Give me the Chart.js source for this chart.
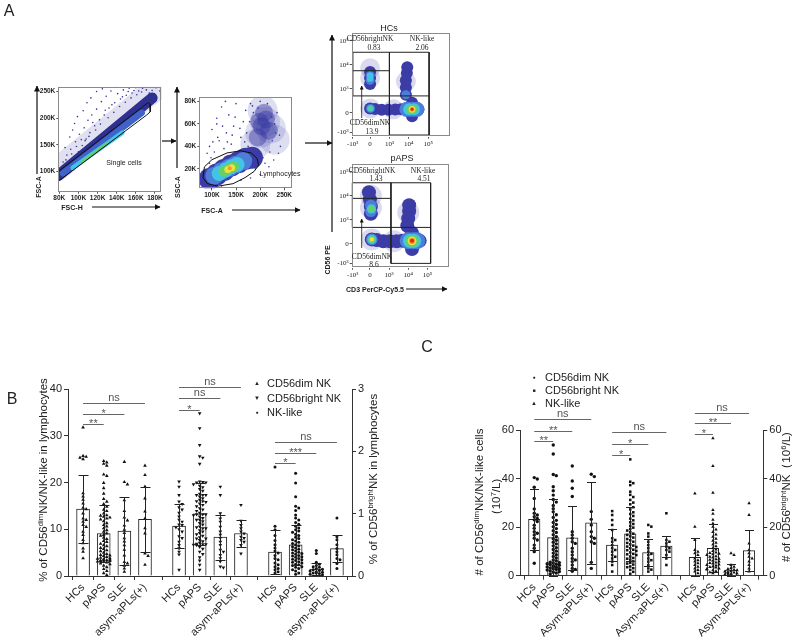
<!DOCTYPE html>
<html><head><meta charset="utf-8">
<script src="https://cdn.jsdelivr.net/npm/chart.js@4.4.1/dist/chart.umd.min.js"></script>
<style>
html,body{margin:0;padding:0;background:#fff;}
#wrap{position:relative;width:799px;height:643px;overflow:hidden;font-family:"Liberation Sans",Arial,sans-serif;color:#222;}
#wrap canvas{position:absolute;}
.t{position:absolute;white-space:nowrap;line-height:1;transform:translate(-50%,-50%);}
.r{transform:translate(-50%,-50%) rotate(-90deg);}
.l{transform:translate(0,-50%);}
.sf{font-family:"Liberation Serif","Times New Roman",serif;}
.b{font-weight:bold;}
sup{font-size:68%;vertical-align:0.5em;line-height:0;}
svg{position:absolute;left:0;top:0;}
</style></head><body>
<div id="wrap">
<canvas id="f1" width="146" height="125" style="left:20px;top:80px"></canvas>
<canvas id="f2" width="135" height="125" style="left:172px;top:82px"></canvas>
<canvas id="f3" width="130" height="132" style="left:330px;top:20px"></canvas>
<canvas id="f4" width="130" height="132" style="left:330px;top:151px"></canvas>
<canvas id="cb" width="400" height="278" style="left:0px;top:365px"></canvas>
<canvas id="cc" width="389" height="253" style="left:410px;top:390px"></canvas>

<svg width="799" height="643" viewBox="0 0 799 643">
<defs>
<marker id="ah" markerWidth="6" markerHeight="6" refX="5.5" refY="3" orient="auto" markerUnits="userSpaceOnUse"><path d="M0,0 L6,3 L0,6 z" fill="#111"/></marker>
<marker id="ahs" markerWidth="4" markerHeight="4" refX="3.5" refY="2" orient="auto" markerUnits="userSpaceOnUse"><path d="M0,0 L4,2 L0,4 z" fill="#111"/></marker>
</defs>
<g stroke="#111" stroke-width="1.2" fill="none">
<line x1="37" y1="174" x2="37" y2="86" marker-end="url(#ah)"/>
<line x1="92" y1="207" x2="160" y2="207" marker-end="url(#ah)"/>
<line x1="177" y1="168" x2="177" y2="87" marker-end="url(#ah)"/>
<line x1="232" y1="210" x2="300" y2="210" marker-end="url(#ah)"/>
<line x1="162" y1="141" x2="176" y2="141" marker-end="url(#ah)"/>
<line x1="305" y1="143" x2="332" y2="143" marker-end="url(#ah)"/>
<line x1="332" y1="232" x2="332" y2="35" marker-end="url(#ah)"/>
<line x1="406" y1="289" x2="447" y2="289" marker-end="url(#ah)"/>
</g>
<g stroke="#111" stroke-width="0.8" fill="none">
<line x1="361.7" y1="118" x2="361.7" y2="86" marker-end="url(#ahs)"/>
<line x1="361.7" y1="248" x2="361.7" y2="219" marker-end="url(#ahs)"/>
</g>
</svg>

<div class="t" style="left:9px;top:11px;font-size:16px;">A</div>
<div class="t" style="left:12px;top:399px;font-size:16px;">B</div>
<div class="t" style="left:427px;top:347px;font-size:16px;">C</div>

<div class="t r b" style="left:38px;top:187px;font-size:7px;">FSC-A</div>
<div class="t b" style="left:72px;top:207px;font-size:7px;">FSC-H</div>
<div class="t" style="left:124px;top:162px;font-size:7px;">Single cells</div>
<div class="t r b" style="left:177px;top:187px;font-size:7px;">SSC-A</div>
<div class="t b" style="left:212px;top:210px;font-size:7px;">FSC-A</div>
<div class="t" style="left:280px;top:173px;font-size:7px;">Lymphocytes</div>

<div class="t" style="left:389px;top:28px;font-size:9px;">HCs</div>
<div class="t" style="left:402px;top:158px;font-size:9px;">pAPS</div>
<div class="t r b" style="left:327px;top:260px;font-size:7px;">CD56 PE</div>
<div class="t b" style="left:375px;top:289px;font-size:7px;">CD3 PerCP-Cy5.5</div>

<div class="t sf" style="left:370px;top:39px;font-size:7.5px;">CD56brightNK</div>
<div class="t sf" style="left:374px;top:48px;font-size:7.5px;">0.83</div>
<div class="t sf" style="left:422px;top:39px;font-size:7.5px;">NK-like</div>
<div class="t sf" style="left:422px;top:48px;font-size:7.5px;">2.06</div>
<div class="t sf" style="left:370px;top:123px;font-size:7.5px;">CD56dimNK</div>
<div class="t sf" style="left:372px;top:132px;font-size:7.5px;">13.9</div>
<div class="t sf" style="left:372px;top:171px;font-size:7.5px;">CD56brightNK</div>
<div class="t sf" style="left:376px;top:179px;font-size:7.5px;">1.43</div>
<div class="t sf" style="left:423px;top:171px;font-size:7.5px;">NK-like</div>
<div class="t sf" style="left:424px;top:179px;font-size:7.5px;">4.51</div>
<div class="t sf" style="left:372px;top:257px;font-size:7.5px;">CD56dimNK</div>
<div class="t sf" style="left:374px;top:265px;font-size:7.5px;">8.6</div>

<div class="t r" style="left:44px;top:480px;font-size:11.5px;">% of CD56<sup>dim</sup>NK/NK-like in lymphocytes</div>
<div class="t r" style="left:374px;top:479px;font-size:11.5px;">% of CD56<sup>bright</sup>NK in lymphocytes</div>

<div class="t" style="left:257px;top:383px;font-size:6px;">▲</div>
<div class="t l" style="left:267px;top:383px;font-size:11px;">CD56dim NK</div>
<div class="t" style="left:257px;top:398px;font-size:6px;">▼</div>
<div class="t l" style="left:267px;top:398px;font-size:11px;">CD56bright NK</div>
<div class="t" style="left:257px;top:412px;font-size:5px;">●</div>
<div class="t l" style="left:267px;top:412px;font-size:11px;">NK-like</div>

<div class="t r" style="left:480px;top:502px;font-size:11.5px;"># of CD56<sup>dim</sup>NK/NK-like cells</div>
<div class="t r" style="left:497px;top:500px;font-size:11.5px;">（10<sup>7</sup>/L)</div>
<div class="t r" style="left:787px;top:497px;font-size:11.5px;"># of CD56<sup>bright</sup>NK（10<sup>6</sup>/L)</div>

<div class="t" style="left:534px;top:377px;font-size:5px;">●</div>
<div class="t l" style="left:545px;top:377px;font-size:11px;">CD56dim NK</div>
<div class="t" style="left:534px;top:390px;font-size:5px;">■</div>
<div class="t l" style="left:545px;top:390px;font-size:11px;">CD56bright NK</div>
<div class="t" style="left:534px;top:403px;font-size:6px;">▲</div>
<div class="t l" style="left:545px;top:403px;font-size:11px;">NK-like</div>
</div>

<script>
// ================= DATA =================
// ---- Panel B: % in lymphocytes ----
const bCategories = ['HCs', 'pAPS', 'SLE', 'asym-aPLs(+)'];
const bSlots = [0, 1, 2, 3, 4.65, 5.65, 6.65, 7.65, 9.3, 10.3, 11.3, 12.3];
const bDimMean = [14.3, 9.1, 9.6, 12.1];
const bDimSD = [7.2, 6.0, 7.2, 6.9];
const bNkMean = [10.7, 13.3, 8.3, 9.1];
const bNkSD = [4.7, 6.6, 4.8, 2.8];
const bBrMean = [0.385, 0.50, 0.11, 0.44];
const bBrSD = [0.36, 0.32, 0.10, 0.22];
const bDimHCs = [31.8, 25.7, 25.5, 25.3, 25.0, 17.7, 17.0, 16.3, 15.5, 14.6, 14.3, 13.4, 12.3, 12.0, 11.6, 10.9, 10.5, 9.5, 8.8, 7.7, 7.0, 5.9, 5.2, 3.8];
const bDimPAPS = [24.6, 24.3, 24.0, 23.6, 21.7, 21.4, 19.9, 18.8, 17.6, 16.5, 15.9, 15.4, 14.8, 14.2, 13.9, 13.4, 13.0, 12.7, 12.5, 12.3, 12.1, 11.7, 11.3, 10.9, 10.6, 10.2, 9.8, 9.5, 9.1, 8.8, 8.6, 8.2, 7.9, 7.5, 7.3, 6.9, 6.6, 6.4, 6.0, 5.8, 5.5, 5.3, 5.0, 4.7, 4.5, 4.3, 4.1, 3.9, 3.8, 3.6, 3.5, 3.4, 3.3, 3.2, 3.1, 3.0, 2.9, 2.7, 2.5, 2.2, 1.9, 1.5, 1.1, 0.6, 0.2, 3.7, 3.4, 3.2, 4.4, 12.9];
const bDimSLE = [24.4, 20.1, 19.6, 16.2, 13.9, 12.5, 11.9, 10.8, 9.9, 9.2, 8.1, 7.4, 6.6, 5.6, 4.4, 3.0, 2.7, 2.2, 1.6, 0.9];
const bDimAsym = [23.6, 21.6, 19.1, 16.6, 13.8, 12.3, 10.2, 9.1, 4.8, 4.3, 2.4];
const bNkHCs = [20.2, 19.1, 17.3, 15.9, 15.4, 14.7, 14.2, 13.5, 12.7, 12.0, 11.6, 11.0, 10.9, 10.4, 10.0, 9.5, 8.5, 8.1, 7.3, 6.6, 5.9, 5.2, 1.3, 4.6];
const bNkPAPS = [34.8, 31.6, 28.0, 25.6, 25.3, 24.0, 20.2, 20.1, 20.0, 20.0, 19.6, 19.3, 19.0, 18.6, 18.2, 17.6, 17.3, 17.3, 17.3, 17.0, 16.6, 16.3, 16.0, 16.0, 15.8, 15.5, 15.2, 14.9, 14.5, 14.2, 13.9, 13.5, 13.2, 13.2, 13.2, 13.0, 12.7, 12.4, 12.0, 12.0, 11.7, 11.3, 11.0, 10.6, 10.4, 10.2, 10.2, 9.8, 9.5, 9.2, 8.9, 8.6, 8.3, 8.0, 8.0, 7.7, 7.4, 7.1, 6.9, 6.8, 6.8, 6.7, 6.6, 6.2, 5.8, 5.2, 4.7, 4.0, 3.3, 2.4, 1.3];
const bNkSLE = [19.1, 17.3, 13.4, 12.3, 11.6, 10.5, 9.5, 8.8, 8.1, 7.3, 6.6, 5.6, 5.2, 4.5, 3.8, 3.1, 2.0, 1.8];
const bNkAsym = [15.2, 11.8, 10.9, 10.2, 9.5, 9.1, 8.4, 8.1, 7.7, 7.3, 6.6, 4.8];
const bBrHCs = [1.75, 0.80, 0.74, 0.65, 0.57, 0.50, 0.45, 0.40, 0.37, 0.33, 0.28, 0.26, 0.21, 0.18, 0.15, 0.12, 0.10, 0.07, 0.05];
const bBrPAPS = [1.65, 1.49, 1.27, 1.12, 1.09, 1.05, 0.98, 0.93, 0.90, 0.86, 0.83, 0.80, 0.77, 0.74, 0.72, 0.70, 0.67, 0.65, 0.62, 0.60, 0.58, 0.56, 0.54, 0.52, 0.50, 0.48, 0.47, 0.45, 0.43, 0.42, 0.40, 0.38, 0.37, 0.35, 0.33, 0.32, 0.30, 0.28, 0.27, 0.25, 0.23, 0.21, 0.19, 0.17, 0.15, 0.12, 0.10, 0.08, 0.05, 0.03, 0.36, 0.31, 0.26, 0.22, 0.18, 0.14];
const bBrSLE = [0.41, 0.36, 0.22, 0.19, 0.17, 0.15, 0.14, 0.12, 0.11, 0.10, 0.09, 0.08, 0.07, 0.06, 0.05, 0.05, 0.04, 0.03, 0.02];
const bBrAsym = [0.93, 0.63, 0.58, 0.50, 0.44, 0.39, 0.34, 0.28, 0.26, 0.20, 0.12];
// significance brackets (slot from, slot to, left-axis value, label)
const bSigFrom = [0, 0, 0, 4.65, 4.65, 4.65, 9.3, 9.3, 9.3];
const bSigTo = [1, 2, 3, 5.65, 6.65, 7.65, 10.3, 11.3, 12.3];
const bSigY = [32.5, 34.6, 37.1, 35.6, 38.0, 40.5, 24.1, 26.4, 28.7];
const bSigLabel = ['**', '*', 'ns', '*', 'ns', 'ns', '*', '***', 'ns'];

// ---- Panel C: absolute counts ----
const cCategories = ['HCs', 'pAPS', 'SLE', 'Asym-aPLs(+)'];
const cSlots = [0, 1, 2, 3, 4.1, 5.05, 6.0, 6.95, 8.45, 9.4, 10.35, 11.3];
const cDimMean = [23.2, 15.7, 15.6, 21.8];
const cDimSD = [12.5, 15.8, 13.1, 16.9];
const cNkMean = [12.6, 17.2, 9.5, 12.2];
const cNkSD = [6.6, 11.0, 5.5, 4.3];
const cBrMean = [7.6, 11.3, 2.3, 10.3];
const cBrSD = [7.8, 9.8, 2.5, 8.4];
const cDimHCs = [40.4, 39.8, 36.4, 31.8, 27.5, 25.7, 25.0, 24.3, 23.0, 22.3, 20.8, 19.5, 18.1, 16.8, 15.4, 14.7, 12.6, 11.3, 9.9, 5.1, 23.6, 17.5];
const cDimPAPS = [53.8, 50.1, 41.7, 41.2, 36.6, 35.0, 33.2, 31.4, 30.3, 28.9, 27.6, 26.3, 25.1, 24.0, 22.8, 21.9, 21.1, 20.2, 19.4, 18.5, 17.8, 16.9, 16.1, 15.2, 14.6, 13.8, 13.1, 12.3, 11.5, 10.8, 10.1, 9.3, 8.6, 7.9, 7.3, 6.5, 6.1, 5.6, 5.2, 4.9, 4.6, 4.3, 4.0, 3.8, 3.5, 3.2, 2.9, 2.6, 2.3, 2.0, 1.7, 1.4, 1.1, 0.7, 5.4, 4.7, 3.6, 2.8];
const cDimSLE = [45.2, 39.0, 36.0, 32.6, 18.1, 16.8, 15.4, 14.0, 13.3, 11.3, 9.9, 8.5, 7.1, 5.8, 4.4, 3.0, 1.8, 2.6, 6.5];
const cDimAsym = [41.8, 40.8, 26.4, 23.2, 20.9, 18.1, 16.1, 15.4, 14.0, 13.3, 5.5, 3.0];
const cNkHCs = [26.6, 25.0, 22.9, 20.9, 18.8, 15.4, 14.7, 14.0, 12.6, 11.3, 10.6, 9.9, 8.5, 7.8, 7.1, 5.8, 4.4, 1.7];
const cNkPAPS = [47.9, 38.7, 38.1, 37.3, 34.6, 33.3, 32.4, 31.2, 30.1, 29.4, 28.2, 27.3, 26.1, 25.4, 24.6, 23.5, 22.8, 22.0, 21.3, 20.5, 19.8, 19.2, 18.6, 17.9, 17.3, 16.8, 16.2, 15.7, 15.1, 14.6, 14.0, 13.5, 12.9, 12.4, 11.8, 11.3, 10.7, 10.2, 9.6, 9.0, 8.5, 7.9, 7.3, 6.6, 5.9, 5.3, 4.6, 3.8, 3.1, 2.4, 1.6, 0.8, 12.0, 10.5, 8.8, 7.0, 5.0, 3.5];
const cNkSLE = [20.9, 20.2, 17.4, 16.1, 14.0, 12.6, 11.3, 9.9, 8.5, 7.1, 6.4, 5.8, 4.4, 3.0, 1.7, 9.0, 2.5];
const cNkAsym = [25.7, 14.7, 14.0, 13.3, 12.0, 11.3, 10.6, 9.9, 8.5, 7.1, 4.4];
const cBrHCs = [33.9, 20.2, 14.7, 10.6, 9.9, 9.2, 8.5, 7.1, 6.4, 5.8, 5.1, 4.4, 3.7, 3.0, 2.3, 1.7, 1.0];
const cBrPAPS = [56.6, 45.2, 34.2, 27.1, 25.5, 23.0, 21.5, 20.2, 19.0, 18.0, 17.0, 16.0, 15.2, 14.4, 13.6, 12.8, 12.1, 11.4, 10.8, 10.2, 9.6, 9.3, 9.0, 8.8, 8.5, 8.0, 7.8, 7.5, 7.0, 6.8, 6.6, 6.2, 5.8, 5.4, 5.2, 5.0, 4.6, 4.4, 4.2, 3.8, 3.6, 3.4, 3.0, 2.8, 2.6, 2.2, 1.8, 1.4, 1.0];
const cBrSLE = [9.2, 8.5, 4.4, 3.7, 3.2, 2.8, 2.5, 2.2, 1.9, 1.7, 1.5, 1.3, 1.1, 0.9, 0.7, 0.6, 0.5, 0.4];
const cBrAsym = [29.8, 25.0, 13.3, 10.6, 9.2, 7.8, 7.1, 5.8, 4.4, 3.0, 1.7];
const cSigFrom = [0, 0, 0, 4.1, 4.1, 4.1, 8.45, 8.45, 8.45];
const cSigTo = [1, 2, 3, 5.05, 6.0, 6.95, 9.4, 10.35, 11.3];
const cSigY = [55.5, 59.6, 64.4, 49.9, 54.2, 59.0, 58.2, 62.7, 67.1];
const cSigLabel = ['**', '**', 'ns', '*', '*', 'ns', '*', '**', 'ns'];

// ---- Panel A: flow cytometry (values in K, or decade positions) ----
const f1XTicks = [80, 100, 120, 140, 160, 180];
const f1YTicks = [100, 150, 200, 250];
const f1Sparse = [[84,118],[88,131],[90,112],[92,142],[95,126],[97,156],[100,137],[101,170],[104,149],[106,182],[108,161],[110,196],[112,173],[114,206],[117,186],[119,217],[122,197],[124,231],[127,206],[129,241],[132,219],[134,251],[138,229],[141,246],[144,236],[147,253],[150,243],[153,256],[156,247],[160,257],[163,251],[167,256],[171,253],[177,252],[181,257],[185,251],[99,203],[94,178],[109,229],[119,250],[86,145],[91,165],[96,190],[105,214],[113,238],[125,255],[140,258],[146,240],[152,250],[158,252],[135,225],[128,215],[115,192],[103,160],[87,122],[93,133],[98,147],[107,158],[111,166],[118,178],[123,189],[131,201],[137,211],[143,222],[149,230],[155,238],[161,244],[166,249],[174,247],[179,244]];
const f1BandHalo = [[79,106],[183,258]];
const f1BandDark = [[79,93],[177,238]];
const f1BandMid = [[84,97],[166,210]];
const f1BandCyan = [[94,107],[146,173]];
const f1BandGreen = [[104,119],[130,153]];
const f1Gate = [[79,100.3],[173,229.4],[175,226],[175,212],[171.3,206],[80,83.4]];

const f2XTicks = [100, 150, 200, 250];
const f2YTicks = [20, 40, 60, 80];
const f2Sparse = [[95,40],[100,55],[105,35],[110,65],[115,45],[120,75],[125,38],[130,52],[135,68],[140,42],[145,58],[150,78],[155,36],[160,48],[165,62],[170,72],[175,40],[180,78],[185,38],[190,20],[200,15],[210,25],[220,35],[225,45],[230,60],[235,70],[240,50],[215,78],[105,5],[120,4],[160,10],[180,12],[95,25],[98,30],[88,12],[110,60],[128,80],[200,80],[112,48],[148,66],[172,52],[228,28],[242,40],[186,70],[132,44],[90,34],[178,62],[184,76],[196,74],[224,66],[232,52],[238,34],[218,22],[206,30],[168,44],[158,56],[142,50],[122,58],[102,44]];
const f2UpperHalo = [[190,42],[200,52],[210,62],[222,56],[205,72],[230,46]];
const f2UpperCore = [[195,48],[203,58],[212,64],[218,54],[208,70],[198,62]];
const f2Dark = [[95,11],[110,15],[125,19],[140,23],[155,26],[170,29],[183,30]];
const f2Light = [[105,14],[120,18],[135,21],[150,24],[165,27]];
const f2Cyan = [[115,16],[128,19],[140,22],[152,24]];
const f2Green = [[125,18],[135,20],[145,22]];
const f2Yellow = [[133,19.5],[141,21]];
const f2Orange = [[137,20.5]];
const f2Gate = [[81.3,12.3],[84.5,21.9],[100,28.2],[131.3,34.2],[159.4,36.1],[181.3,34.2],[193.7,29.3],[196.8,23.3],[187.5,17.8],[168.7,12.3],[143.8,6.9],[112.5,4.7],[90.6,6.9],[81.3,12.3]];

// CD3 (x) vs CD56 (y): positions on the display scale, -10^3 / 0 / 10^3 / 10^4 / 10^5
const fcXTicks = [0.1, 1, 2, 3, 4];
const fcYTicks = [0.18, 1, 2, 3, 4];
const fcTickLabels = ['-10³', '0', '10³', '10⁴', '10⁵'];
const hcsHalo = [[1.0,2.45],[1.0,1.18],[3.17,1.14],[2.2,1.14],[2.85,2.3],[1.0,2.85]];
const hcsBlue = [[1.0,2.2],[1.0,2.45],[1.0,2.7],[1.0,1.18],[1.25,1.15],[1.6,1.12],[1.95,1.12],[2.3,1.13],[2.6,1.14],[2.9,1.14],[3.17,1.14],[3.5,1.14],[3.17,0.85],[3.17,1.42],[2.85,1.75],[2.85,2.05],[2.85,2.35],[2.9,2.65],[2.92,2.9]];
const hcsLightS = [[1.0,2.35],[1.0,2.55],[1.02,1.18],[2.85,1.75]];
const hcsLightL = [[2.9,1.14],[3.17,1.14],[3.42,1.14]];
const hcsCyanS = [[1.0,2.42],[1.0,2.55],[1.02,1.18]];
const hcsCyanL = [[3.02,1.14],[3.27,1.14]];
const hcsGreenS = [[1.02,1.18]];
const hcsGreenL = [[3.1,1.14],[3.22,1.14]];
const hcsYellow = [[3.17,1.14]];
const hcsRed = [[3.17,1.14]];
const hcsGate = [[[0.1,3.52],[4.05,3.52]],[[0.1,2.75],[2.0,2.75]],[[0.1,1.70],[4.05,1.70]],[[0.1,3.52],[0.1,1.70]],[[2.0,3.52],[2.0,0.07]],[[4.05,3.52],[4.05,0.07]],[[2.0,0.07],[4.05,0.07]]];
const papsHalo = [[1.05,2.5],[1.05,3.0],[1.1,1.18],[3.2,1.12],[2.25,1.1],[3.0,2.3]];
const papsBlue = [[1.05,2.25],[1.05,2.55],[1.0,2.85],[0.95,3.15],[1.1,1.18],[1.35,1.15],[1.7,1.1],[2.05,1.1],[2.4,1.1],[2.7,1.12],[3.0,1.12],[3.25,1.12],[3.6,1.12],[3.2,0.78],[3.2,1.45],[2.95,1.75],[3.0,2.05],[3.05,2.35],[3.05,2.6]];
const papsLightS = [[1.05,2.35],[1.05,2.6],[1.1,1.18]];
const papsLightL = [[3.0,1.12],[3.25,1.12],[3.45,1.12]];
const papsCyanS = [[1.08,2.45],[1.1,1.18]];
const papsCyanL = [[3.1,1.12],[3.3,1.12]];
const papsGreenS = [[1.08,2.45],[1.1,1.18]];
const papsGreenL = [[3.15,1.12],[3.25,1.12]];
const papsYellowS = [[1.1,1.18]];
const papsYellowL = [[3.2,1.12]];
const papsRed = [[3.2,1.12]];
const papsGate = [[[0.08,3.54],[4.17,3.54]],[[0.08,2.89],[2.1,2.89]],[[0.08,1.68],[4.17,1.68]],[[0.08,3.54],[0.08,1.68]],[[2.1,3.54],[2.1,0.18]],[[4.17,3.54],[4.17,0.18]],[[2.1,0.18],[4.17,0.18]]];

// ================= RENDERING =================
Chart.defaults.font.family = '"Liberation Sans", Arial, sans-serif';
const FONT_SERIF = '"Liberation Serif", "Times New Roman", serif';
const C_BLUE = '#3b3ca6', C_LIGHT = '#4c7ed8', C_CYAN = '#41c4e6', C_GREEN = '#67cf68', C_YELLOW = '#ece23b', C_ORANGE = '#f29a2a', C_RED = '#e2231e', C_HALO = 'rgba(70,72,175,0.2)', C_DOT = '#34359a';

const xy = p => ({x: p[0], y: p[1]});
const framePlugin = {id: 'frame', afterDraw(c) {
  const a = c.chartArea, g = c.ctx; g.save(); g.strokeStyle = '#8a8a8a'; g.lineWidth = 1;
  g.strokeRect(Math.round(a.left) + 0.5, Math.round(a.top) + 0.5, Math.round(a.right - a.left) - 1, Math.round(a.bottom - a.top) - 1); g.restore(); }};

function flowAxis(pos, min, max, ticks, labels, font, size) {
  return {type: 'linear', position: pos, min, max,
    afterBuildTicks: s => { s.ticks = ticks.map(v => ({value: v})); },
    ticks: {autoSkip: false, minRotation: 0, maxRotation: 0, font, color: '#222', padding: 1, callback: (v, i) => labels[i]},
    grid: {display: true, drawOnChartArea: false, drawTicks: true, tickLength: 2, color: '#555'},
    border: {display: false},
    afterFit: s => { if (pos === 'left') s.width = size; else s.height = size; s.paddingLeft = 0; s.paddingRight = 0; s.paddingTop = 0; s.paddingBottom = 0; }};
}
function flowChart(id, items, ax) {
  const ds = items.map(it => it.line
    ? {type: 'line', data: it.pts.map(xy), borderColor: it.c, borderWidth: it.w, pointRadius: 0, fill: false, tension: 0, borderCapStyle: it.cap || 'butt', borderJoinStyle: 'miter'}
    : {type: 'scatter', data: it.pts.map(xy), pointRadius: it.r, pointHoverRadius: it.r, backgroundColor: it.c, borderWidth: 0});
  ds.forEach((d, i) => d.order = ds.length - i);
  return new Chart(document.getElementById(id), {
    type: 'scatter', data: {datasets: ds},
    options: {responsive: false, animation: false, events: [],
      layout: {padding: {top: ax.padTop, right: ax.padRight, left: 0, bottom: 0}},
      plugins: {legend: {display: false}, tooltip: {enabled: false}},
      scales: {
        x: flowAxis('bottom', ax.xMin, ax.xMax, ax.xTicks, ax.xLabels, ax.font, ax.xH),
        y: flowAxis('left', ax.yMin, ax.yMax, ax.yTicks, ax.yLabels, ax.font, ax.yW)}},
    plugins: [framePlugin]});
}
const kLab = a => a.map(v => v + 'K');
const boldSmall = {size: 6.5, weight: 'bold'};

flowChart('f1', [
  {line: true, pts: f1BandHalo, c: 'rgba(60,62,165,0.16)', w: 24, cap: 'round'},
  {pts: f1Sparse, c: C_DOT, r: 0.8},
  {line: true, pts: f1BandDark, c: '#2f3192', w: 11, cap: 'round'},
  {line: true, pts: f1BandMid, c: '#3f63c8', w: 6.5, cap: 'round'},
  {line: true, pts: f1BandCyan, c: C_CYAN, w: 4.5, cap: 'round'},
  {line: true, pts: f1BandGreen, c: C_GREEN, w: 2.5, cap: 'round'},
  {line: true, pts: f1Gate, c: '#111', w: 1}
], {xMin: 79, xMax: 187, yMin: 62.5, yMax: 259, xTicks: f1XTicks, yTicks: f1YTicks, xLabels: kLab(f1XTicks), yLabels: kLab(f1YTicks), font: boldSmall, padTop: 6.7, padRight: 4.3, yW: 38.3, xH: 13.3});

flowChart('f2', [
  {pts: f2Sparse, c: C_DOT, r: 0.8},
  {pts: f2UpperHalo, c: 'rgba(70,72,175,0.18)', r: 15},
  {pts: f2UpperCore, c: 'rgba(55,58,160,0.45)', r: 9},
  {pts: f2Dark, c: C_BLUE, r: 11},
  {pts: f2Light, c: C_LIGHT, r: 9},
  {pts: f2Cyan, c: C_CYAN, r: 7.5},
  {pts: f2Green, c: C_GREEN, r: 5.5},
  {pts: f2Yellow, c: C_YELLOW, r: 3.5},
  {pts: f2Orange, c: C_ORANGE, r: 2},
  {line: true, pts: f2Gate, c: '#111', w: 1}
], {xMin: 73.8, xMax: 266, yMin: 2.8, yMax: 83.9, xTicks: f2XTicks, yTicks: f2YTicks, xLabels: kLab(f2XTicks), yLabels: kLab(f2YTicks), font: boldSmall, padTop: 7.3, padRight: 5.3, yW: 27.3, xH: 18.7});

const serifSmall = {size: 7, family: FONT_SERIF};
const fcAx = {xMin: 0.05, xMax: 5.13, yMin: 0, yMax: 4.31, xTicks: fcXTicks, yTicks: fcYTicks, xLabels: fcTickLabels, yLabels: fcTickLabels, font: serifSmall, padTop: 13.3, padRight: 6.7, yW: 21.7, xH: 15.3};
const gateItems = g => g.map(seg => ({line: true, pts: seg, c: '#222', w: 1}));
flowChart('f3', [
  {pts: hcsHalo, c: C_HALO, r: 10},
  {pts: hcsBlue, c: C_BLUE, r: 6},
  {pts: hcsLightS, c: C_LIGHT, r: 4.5},
  {pts: hcsLightL, c: C_LIGHT, r: 7.5},
  {pts: hcsCyanS, c: C_CYAN, r: 3.2},
  {pts: hcsCyanL, c: C_CYAN, r: 6},
  {pts: hcsGreenS, c: C_GREEN, r: 2},
  {pts: hcsGreenL, c: C_GREEN, r: 4.6},
  {pts: hcsYellow, c: C_YELLOW, r: 3.4},
  {pts: hcsYellow, c: C_ORANGE, r: 2.3},
  {pts: hcsRed, c: C_RED, r: 1.5},
  ...gateItems(hcsGate)
], fcAx);
flowChart('f4', [
  {pts: papsHalo, c: C_HALO, r: 11},
  {pts: papsBlue, c: C_BLUE, r: 7},
  {pts: papsLightS, c: C_LIGHT, r: 5.8},
  {pts: papsLightL, c: C_LIGHT, r: 8.5},
  {pts: papsCyanS, c: C_CYAN, r: 4.6},
  {pts: papsCyanL, c: C_CYAN, r: 7.2},
  {pts: papsGreenS, c: C_GREEN, r: 3.3},
  {pts: papsGreenL, c: C_GREEN, r: 5.8},
  {pts: papsYellowS, c: C_YELLOW, r: 2.2},
  {pts: papsYellowL, c: C_YELLOW, r: 4.4},
  {pts: papsYellowL, c: C_ORANGE, r: 3.1},
  {pts: papsRed, c: C_RED, r: 2},
  ...gateItems(papsGate)
], fcAx);

// ---------- bar + dot charts ----------
function swarm(vals, cx, step, half, minDy) {
  const idx = vals.map((v, i) => i).sort((a, b) => vals[b] - vals[a]);
  const offs = [0]; for (let s = 1; s * step <= half + 1e-9; s++) offs.push(s * step, -s * step);
  const placed = [];
  idx.forEach((i, k) => {
    const v = vals[i]; let o = null;
    for (const c of offs) {
      if (!placed.some(p => Math.abs(p.y - v) < minDy && Math.abs(p.x - (cx + c)) < step * 0.95)) { o = c; break; }
    }
    if (o === null) o = offs[k % offs.length];
    placed.push({x: cx + o, y: v});
  });
  return placed;
}
const errPlugin = {id: 'err', afterDatasetsDraw(chart, args, opts) {
  const g = chart.ctx; g.save(); g.strokeStyle = '#222'; g.lineWidth = 1;
  chart.data.datasets.forEach((ds, i) => {
    if (!ds.errors) return;
    const meta = chart.getDatasetMeta(i), ys = chart.scales[ds.yAxisID];
    meta.data.forEach((el, j) => {
      const m = ds.data[j].y, sd = ds.errors[j], x = Math.round(el.x) + 0.5;
      const yt = Math.round(ys.getPixelForValue(m + sd)) + 0.5, yb = Math.round(ys.getPixelForValue(Math.max(0, m - sd))) + 0.5;
      g.beginPath(); g.moveTo(x, yt); g.lineTo(x, yb);
      g.moveTo(x - opts.cap, yt); g.lineTo(x + opts.cap, yt);
      g.moveTo(x - opts.cap, yb); g.lineTo(x + opts.cap, yb); g.stroke();
    });
  });
  g.restore(); }};
const sigPlugin = {id: 'sig', afterDraw(chart, args, opts) {
  const g = chart.ctx, xs = chart.scales.x, ys = chart.scales.y; g.save();
  g.strokeStyle = '#666'; g.fillStyle = '#555'; g.lineWidth = 1; g.font = '11px "Liberation Sans", Arial, sans-serif'; g.textAlign = 'center'; g.textBaseline = 'alphabetic';
  opts.from.forEach((f, i) => {
    const x1 = xs.getPixelForValue(f), x2 = xs.getPixelForValue(opts.to[i]), y = Math.round(ys.getPixelForValue(opts.y[i])) + 0.5;
    g.beginPath(); g.moveTo(x1, y); g.lineTo(x2, y); g.stroke();
    const lab = opts.label[i];
    g.fillText(lab, (x1 + x2) / 2, lab.indexOf('*') >= 0 ? y + 2.5 : y - 3);
  });
  g.restore(); }};

function barDotChart(id, p) {
  const barStyle = {backgroundColor: '#fff', borderColor: '#222', borderWidth: 1, barThickness: p.barW, grouped: false, order: 10};
  const datasets = [
    {type: 'bar', data: p.leftMeans.map((m, i) => ({x: p.slots[i], y: m})), errors: p.leftSD, yAxisID: 'y', ...barStyle},
    {type: 'bar', data: p.rightMeans.map((m, i) => ({x: p.slots[8 + i], y: m})), errors: p.rightSD, yAxisID: 'y2', ...barStyle}];
  p.series.forEach(s => {
    const pts = [];
    s.groups.forEach((vals, gi) => pts.push(...swarm(vals, p.slots[s.start + gi], p.step, p.half, s.minDy)));
    datasets.push({type: 'scatter', data: pts, yAxisID: s.axis, pointStyle: s.style, rotation: s.rot || 0, pointRadius: s.r, pointHoverRadius: s.r,
      backgroundColor: '#111', borderColor: '#111', borderWidth: 0, clip: false, order: 1});
  });
  const tickFont = {size: 11};
  const yAxis = (pos, max, step, w) => ({type: 'linear', position: pos, min: 0, max,
    ticks: {stepSize: step, font: tickFont, color: '#222', padding: 2},
    grid: {drawOnChartArea: false, drawTicks: true, tickLength: 4, color: '#333'}, border: {color: '#333'},
    afterFit: s => { s.width = w; s.paddingTop = 0; s.paddingBottom = 0; }});
  return new Chart(document.getElementById(id), {
    type: 'bar', data: {datasets},
    options: {responsive: false, animation: false, events: [],
      layout: {padding: {left: p.padLeft, top: p.padTop, right: 0, bottom: 0}},
      plugins: {legend: {display: false}, tooltip: {enabled: false},
        err: {cap: p.cap}, sig: {from: p.sigFrom, to: p.sigTo, y: p.sigY, label: p.sigLabel}},
      scales: {
        x: {type: 'linear', min: p.xMin, max: p.xMax, offset: false,
          afterBuildTicks: s => { s.ticks = p.slots.map(v => ({value: v})); },
          ticks: {autoSkip: false, minRotation: 45, maxRotation: 45, font: tickFont, color: '#222', padding: 1, callback: (v, i) => p.categories[i % 4]},
          grid: {drawOnChartArea: false, drawTicks: true, tickLength: 4, color: '#333'}, border: {color: '#333'},
          afterFit: s => { s.height = p.xH; s.paddingLeft = 0; s.paddingRight = 0; }},
        y: yAxis('left', p.yMax, p.yStep, p.yW),
        y2: yAxis('right', p.y2Max, p.y2Step, p.y2W)}},
    plugins: [errPlugin, sigPlugin]});
}

barDotChart('cb', {
  categories: bCategories, slots: bSlots, xMin: -0.73, xMax: 13.03,
  leftMeans: [...bDimMean, ...bNkMean], leftSD: [...bDimSD, ...bNkSD], rightMeans: bBrMean, rightSD: bBrSD,
  series: [
    {groups: [bDimHCs, bDimPAPS, bDimSLE, bDimAsym], start: 0, axis: 'y', style: 'triangle', r: 2.1, minDy: 0.6},
    {groups: [bNkHCs, bNkPAPS, bNkSLE, bNkAsym], start: 4, axis: 'y', style: 'triangle', rot: 180, r: 2.1, minDy: 0.6},
    {groups: [bBrHCs, bBrPAPS, bBrSLE, bBrAsym], start: 8, axis: 'y2', style: 'circle', r: 1.5, minDy: 0.045}],
  step: 0.15, half: 0.33, barW: 13, cap: 5,
  yMax: 40, yStep: 10, y2Max: 3, y2Step: 1, yW: 30, y2W: 48, xH: 67, padLeft: 38, padTop: 24,
  sigFrom: bSigFrom, sigTo: bSigTo, sigY: bSigY, sigLabel: bSigLabel});

barDotChart('cc', {
  categories: cCategories, slots: cSlots, xMin: -0.75, xMax: 12.05,
  leftMeans: [...cDimMean, ...cNkMean], leftSD: [...cDimSD, ...cNkSD], rightMeans: cBrMean, rightSD: cBrSD,
  series: [
    {groups: [cDimHCs, cDimPAPS, cDimSLE, cDimAsym], start: 0, axis: 'y', style: 'circle', r: 1.7, minDy: 1.2},
    {groups: [cNkHCs, cNkPAPS, cNkSLE, cNkAsym], start: 4, axis: 'y', style: 'rect', r: 1.8, minDy: 1.2},
    {groups: [cBrHCs, cBrPAPS, cBrSLE, cBrAsym], start: 8, axis: 'y2', style: 'triangle', r: 2, minDy: 1.2}],
  step: 0.16, half: 0.33, barW: 11.5, cap: 4.5,
  yMax: 60, yStep: 20, y2Max: 60, y2Step: 20, yW: 30, y2W: 35.7, xH: 67.3, padLeft: 80, padTop: 40,
  sigFrom: cSigFrom, sigTo: cSigTo, sigY: cSigY, sigLabel: cSigLabel});
</script>
</body></html>
